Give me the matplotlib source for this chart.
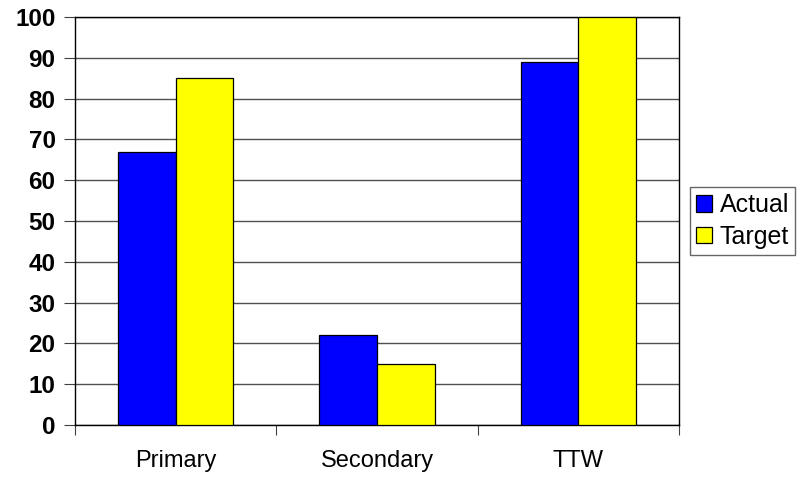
import matplotlib
matplotlib.use("Agg")
import matplotlib.pyplot as plt
import numpy as np

categories = ["Primary", "Secondary", "TTW"]
actual = [67, 22, 89]
target = [85, 15, 100]
y_ticks = [0, 10, 20, 30, 40, 50, 60, 70, 80, 90, 100]

plt.rcParams["font.family"] = ["Liberation Sans", "DejaVu Sans"]

fig = plt.figure(figsize=(8.02, 4.79), dpi=100)
ax = fig.add_axes([75 / 802, 54 / 479, 604 / 802, 408 / 479])

x = np.arange(len(categories))
w = 0.2865
ax.bar(x - w / 2, actual, width=w, color="#0000FF", edgecolor="black", linewidth=0.9,
       label="Actual", zorder=3)
ax.bar(x + w / 2, target, width=w, color="#FFFF00", edgecolor="black", linewidth=0.9,
       label="Target", zorder=3)

ax.set_xlim(-0.5, 2.5)
ax.set_ylim(0, 100)
ax.set_yticks(y_ticks)
ax.set_yticklabels([str(v) for v in y_ticks], fontsize=17.5, fontweight="bold")
ax.yaxis.grid(True, color="#505050", linewidth=1.0, zorder=0)
ax.set_axisbelow(True)

# category labels in the middle, tick marks at the group boundaries
ax.set_xticks([-0.5, 0.5, 1.5, 2.5])
ax.set_xticklabels([])
ax.set_xticks(x, minor=True)
ax.set_xticklabels(categories, minor=True, fontsize=17)
ax.tick_params(axis="x", which="minor", length=0, pad=18)
ax.tick_params(axis="x", which="major", length=7, width=0.8, color="#404040")
ax.tick_params(axis="y", length=8, width=0.8, color="#404040", pad=6)

for side in ["top", "right", "left", "bottom"]:
    ax.spines[side].set_color("black")
    ax.spines[side].set_linewidth(1.0)

leg = ax.legend(loc="center left", bbox_to_anchor=(1.018, 0.5), fontsize=18,
                frameon=True, fancybox=False, edgecolor="#404040",
                handlelength=0.65, handleheight=0.65, handletextpad=0.3,
                borderpad=0.25, labelspacing=0.3, borderaxespad=0)
leg.get_frame().set_linewidth(1.0)

fig.savefig("out.png", dpi=100)
